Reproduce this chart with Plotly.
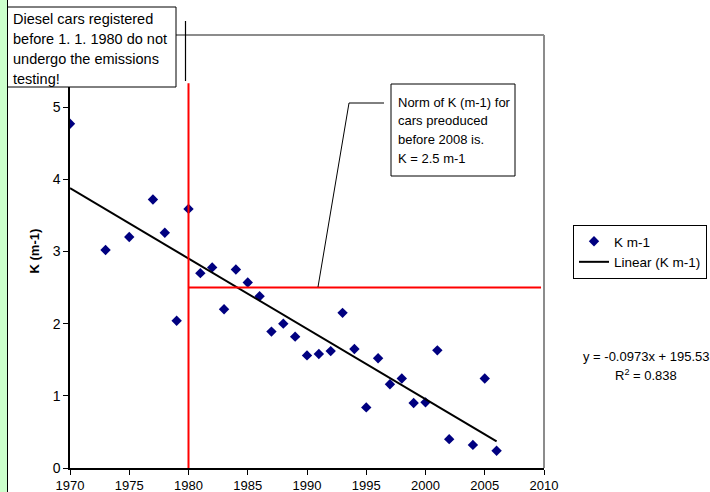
import numpy as np
import plotly.graph_objects as go

# ---- data ----
years = [1970, 1973, 1975, 1977, 1978, 1979, 1980, 1981, 1982, 1983, 1984,
         1985, 1986, 1987, 1988, 1989, 1990, 1991, 1992, 1993, 1994, 1995,
         1996, 1997, 1998, 1999, 2000, 2001, 2002, 2004, 2005, 2006]
k_values = [4.77, 3.02, 3.20, 3.72, 3.26, 2.04, 3.59, 2.70, 2.78, 2.20, 2.75,
            2.57, 2.38, 1.89, 2.00, 1.82, 1.56, 1.58, 1.62, 2.15, 1.65, 0.84,
            1.52, 1.16, 1.24, 0.90, 0.91, 1.63, 0.40, 0.32, 1.24, 0.24]
x_ticks = [1970, 1975, 1980, 1985, 1990, 1995, 2000, 2005, 2010]
y_ticks = [0, 1, 2, 3, 4, 5]
norm_k = 2.5
limit_year = 1980
note1_lines = ["Diesel cars registered", "before 1. 1. 1980 do not",
               "undergo the emissions", "testing!"]
note2_lines = ["Norm of K (m-1) for", "cars preoduced", "before 2008 is.",
               "K = 2.5 m-1"]
eq_lines = ["y = -0.0973x + 195.53", "R<sup>2</sup> = 0.838"]

# ---- layout geometry (pixels) ----
W, H = 710, 492
L, R, T, B = 70, 544, 35, 468
FONT = "Arial, Liberation Sans, sans-serif"


def px(xp):
    return (xp - L) / (R - L)


def py(yp):
    return (B - yp) / (B - T)


# trend line (least squares)
slope, intercept = np.polyfit(years, k_values, 1)
tx = [min(years), max(years)]
ty = [slope * v + intercept for v in tx]

fig = go.Figure()
fig.add_trace(go.Scatter(
    x=years, y=k_values, mode="markers", name="K m-1",
    marker=dict(symbol="diamond", size=8, color="#000080",
                line=dict(width=0)),
))
fig.add_trace(go.Scatter(
    x=tx, y=ty, mode="lines", name="Linear (K m-1)",
    line=dict(color="black", width=2),
))

shapes = []
# left green strip
shapes.append(dict(type="rect", xref="paper", yref="paper",
                   x0=px(-2), x1=px(7), y0=py(H + 5), y1=py(-5),
                   fillcolor="#CCFFCC", line=dict(width=0), layer="above"))
shapes.append(dict(type="line", xref="paper", yref="paper",
                   x0=px(7.5), x1=px(7.5), y0=py(H + 5), y1=py(-5),
                   line=dict(color="black", width=1), layer="above"))
# plot area border top/right (gray)
shapes.append(dict(type="line", xref="paper", yref="paper",
                   x0=0, x1=1, y0=1, y1=1,
                   line=dict(color="#8c8c8c", width=2), layer="above"))
shapes.append(dict(type="line", xref="paper", yref="paper",
                   x0=1, x1=1, y0=0, y1=1,
                   line=dict(color="#8c8c8c", width=2), layer="above"))
# red reference lines
shapes.append(dict(type="line", xref="x", yref="y",
                   x0=limit_year, x1=limit_year, y0=0, y1=5.33,
                   line=dict(color="#FF0000", width=2), layer="above"))
shapes.append(dict(type="line", xref="x", yref="y",
                   x0=limit_year, x1=2009.75, y0=norm_k, y1=norm_k,
                   line=dict(color="#FF0000", width=2), layer="above"))
# callout 1 box + accent bar
shapes.append(dict(type="rect", xref="paper", yref="paper",
                   x0=px(7.5), x1=px(176), y0=py(87), y1=py(7),
                   fillcolor="white", line=dict(color="black", width=1),
                   layer="above"))
shapes.append(dict(type="line", xref="paper", yref="paper",
                   x0=px(185.5), x1=px(185.5), y0=py(81), y1=py(21),
                   line=dict(color="black", width=1.2), layer="above"))
# callout 2 box + leader
shapes.append(dict(type="rect", xref="paper", yref="paper",
                   x0=px(391), x1=px(515), y0=py(176), y1=py(84),
                   fillcolor="white", line=dict(color="black", width=1),
                   layer="above"))
shapes.append(dict(type="path", xref="paper", yref="paper",
                   path="M {} {} L {} {} L {} {}".format(
                       px(318), py(287), px(349), py(103), px(384), py(103)),
                   line=dict(color="black", width=1), layer="above"))

annotations = []
for i, t in enumerate(note1_lines):
    annotations.append(dict(
        xref="paper", yref="paper", x=px(11), y=py(19 + 20 * i),
        xanchor="left", yanchor="middle", align="left", showarrow=False,
        text=t, font=dict(family=FONT, size=14.5, color="black")))
for i, t in enumerate(note2_lines):
    annotations.append(dict(
        xref="paper", yref="paper", x=px(396), y=py(102 + 18.7 * i),
        xanchor="left", yanchor="middle", align="left", showarrow=False,
        text=t, font=dict(family=FONT, size=13, color="black")))
for i, t in enumerate(eq_lines):
    annotations.append(dict(
        xref="paper", yref="paper", x=px(646), y=py(356 + 19 * i),
        xanchor="center", yanchor="middle", align="center",
        showarrow=False, text=t,
        font=dict(family=FONT, size=13, color="black")))
annotations.append(dict(
    xref="paper", yref="paper", x=px(34), y=0.5,
    xanchor="center", yanchor="middle", textangle=-90,
    showarrow=False, text="<b>K (m-1)</b>",
    font=dict(family=FONT, size=13, color="black")))

fig.update_layout(
    width=W, height=H, autosize=False,
    margin=dict(l=L, r=W - R, t=T, b=H - B, pad=0, autoexpand=False),
    paper_bgcolor="white", plot_bgcolor="white",
    font=dict(family=FONT, size=12, color="black"),
    shapes=shapes, annotations=annotations,
    legend=dict(x=px(573), y=py(225), xanchor="left", yanchor="top",
                bgcolor="white", bordercolor="black", borderwidth=1,
                font=dict(family=FONT, size=13.5, color="black"),
                itemwidth=30, tracegroupgap=0),
    showlegend=True,
)
fig.update_xaxes(range=[1970, 2010], tickvals=x_ticks, showgrid=False,
                 zeroline=False, showline=True, linecolor="black",
                 linewidth=1.5, ticks="outside", ticklen=5, tickwidth=1,
                 tickcolor="black", tickfont=dict(size=13, family=FONT),
                 automargin=False)
fig.update_yaxes(range=[0, 6], tickvals=y_ticks, showgrid=False,
                 zeroline=False, showline=True, linecolor="black",
                 linewidth=1.5, ticks="outside", ticklen=5, tickwidth=1,
                 tickcolor="black", tickfont=dict(size=14, family=FONT),
                 ticksuffix="\u2002", automargin=False)

fig.write_html(
    "out.html",
    config={"displayModeBar": False},
    post_script=["document.body.style.margin='0';"
                 "document.body.style.padding='0';"
                 "document.body.style.overflow='hidden';"
                 "document.documentElement.style.overflow='hidden';"],
)
